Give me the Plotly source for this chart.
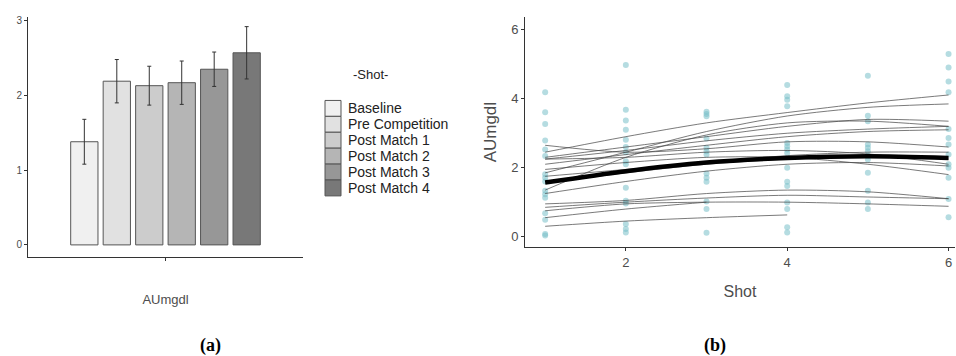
import plotly.graph_objects as go

# ---------------- data: panel (a) ----------------
shot_levels = ["Baseline", "Pre Competition", "Post Match 1", "Post Match 2", "Post Match 3", "Post Match 4"]
bar_means = [1.38, 2.19, 2.13, 2.17, 2.35, 2.57]
bar_err = [0.30, 0.29, 0.26, 0.29, 0.23, 0.35]
bar_colors = ["#F0F0F0", "#E1E1E1", "#CCCCCC", "#B5B5B5", "#979797", "#787878"]
bar_category = "AUmgdl"

# ---------------- data: panel (b) ----------------
shots = [1, 2, 3, 4, 5, 6]
pts_shot1 = [4.19, 3.61, 3.27, 2.79, 2.53, 2.34, 1.81, 1.71, 1.60, 1.33, 1.23, 1.13, 0.68, 0.49, 0.08, 0.03]
pts_shot2 = [4.98, 3.68, 3.37, 3.10, 2.81, 2.60, 2.45, 2.19, 2.10, 1.42, 1.04, 0.96, 0.37, 0.22, 0.12]
pts_shot3 = [3.62, 3.56, 3.49, 2.85, 2.58, 2.48, 2.38, 1.83, 1.71, 1.59, 1.02, 0.80, 0.11]
pts_shot4 = [4.40, 4.07, 3.97, 3.78, 2.72, 2.62, 2.53, 2.43, 2.00, 1.59, 1.47, 0.99, 0.80, 0.27, 0.12]
pts_shot5 = [4.67, 3.51, 3.35, 2.67, 2.58, 2.48, 2.34, 2.24, 1.85, 1.33, 0.99, 0.80]
pts_shot6 = [5.30, 4.91, 4.50, 4.19, 3.12, 2.86, 2.67, 2.38, 2.10, 2.00, 1.71, 1.09, 0.56]

subj01 = [2.45, 2.90, 3.30, 3.60, 3.88, 4.11]
subj02 = [1.85, 2.45, 3.05, 3.50, 3.75, 3.85]
subj03 = [2.30, 2.60, 2.90, 3.20, 3.40, 3.35]
subj04 = [2.25, 2.50, 2.78, 3.00, 3.12, 3.20]
subj05 = [2.10, 2.38, 2.65, 2.90, 3.05, 3.10]
subj06 = [2.65, 2.45, 2.55, 2.75, 2.75, 2.60]
subj07 = [2.25, 2.30, 2.45, 2.50, 2.40, 2.10]
subj08 = [1.95, 2.15, 2.30, 2.30, 2.10, 1.80]
subj09 = [1.35, 2.30, 2.95, 3.30, 3.35, 3.20]
subj10 = [1.55, 1.85, 2.10, 2.25, 2.30, 2.25]
subj11 = [1.25, 1.60, 1.90, 2.10, 2.15, 2.05]
subj12 = [1.75, 1.95, 2.15, 2.35, 2.45, 2.45]
subj13 = [0.95, 1.05, 1.25, 1.35, 1.30, 1.10]
subj14 = [0.85, 1.00, 1.12, 1.20, 1.15, 1.10]
subj15 = [0.75, 0.95, 1.00, 1.00, 0.95, 0.88]
subj16 = [0.55, 0.80, 1.00, None, None, None]
subj17 = [0.30, 0.45, 0.55, 0.63, None, None]
mean_curve = [1.57, 1.90, 2.15, 2.28, 2.33, 2.28]

W, H = 956, 356
FONT = "Arial, Liberation Sans, sans-serif"
AXC = "#333333"
TXT = "#4D4D4D"

fig = go.Figure()

# ---- panel (a): bars ----
for name, m, e, c in zip(shot_levels, bar_means, bar_err, bar_colors):
    fig.add_trace(go.Bar(
        x=[bar_category], y=[m], name=name, marker=dict(color=c, line=dict(color="#555555", width=1)),
        error_y=dict(type="data", array=[e], color="#333333", thickness=1, width=2),
        xaxis="x", yaxis="y", showlegend=False,
    ))

# ---- panel (b): points ----
pt_color = "rgba(120,192,200,0.55)"
for s, arr in zip(shots, [pts_shot1, pts_shot2, pts_shot3, pts_shot4, pts_shot5, pts_shot6]):
    fig.add_trace(go.Scatter(
        x=[s] * len(arr), y=arr, mode="markers",
        marker=dict(size=6, color=pt_color), xaxis="x2", yaxis="y2", showlegend=False,
    ))

subjects = [subj01, subj02, subj03, subj04, subj05, subj06, subj07, subj08, subj09,
            subj10, subj11, subj12, subj13, subj14, subj15, subj16, subj17]
for ys in subjects:
    fig.add_trace(go.Scatter(
        x=shots, y=ys, mode="lines", line=dict(color="rgba(70,70,70,0.8)", width=0.9, shape="spline", smoothing=0.8),
        connectgaps=False, xaxis="x2", yaxis="y2", showlegend=False,
    ))
fig.add_trace(go.Scatter(
    x=shots, y=mean_curve, mode="lines", line=dict(color="black", width=4.5, shape="spline", smoothing=0.8),
    xaxis="x2", yaxis="y2", showlegend=False,
))

# ---- manual legend for panel (a) ----
key_left, key_w, key_h, key_top = 325, 16, 16, 99
shapes = []
annotations = []
annotations.append(dict(text="-Shot-", x=370 / W, y=1 - 73 / H, xref="paper", yref="paper",
                        showarrow=False, font=dict(family=FONT, size=13, color="#222222"),
                        xanchor="center", yanchor="middle"))
for i, (name, c) in enumerate(zip(shot_levels, bar_colors)):
    y0 = key_top + i * key_h
    shapes.append(dict(type="rect", xref="paper", yref="paper",
                       x0=key_left / W, x1=(key_left + key_w) / W,
                       y0=1 - (y0 + key_h) / H, y1=1 - y0 / H,
                       fillcolor=c, line=dict(color="#555555", width=1)))
    annotations.append(dict(text=name, x=(key_left + key_w + 5) / W, y=1 - (y0 + key_h / 2) / H,
                            xref="paper", yref="paper", showarrow=False,
                            font=dict(family=FONT, size=14, color="#222222"),
                            xanchor="left", yanchor="middle"))

# panel labels
annotations.append(dict(text="<b>(a)</b>", x=210 / W, y=1 - 345 / H, xref="paper", yref="paper",
                        showarrow=False, font=dict(family="Liberation Serif, Times New Roman, serif", size=18, color="black"),
                        xanchor="center", yanchor="middle"))
annotations.append(dict(text="<b>(b)</b>", x=715 / W, y=1 - 345 / H, xref="paper", yref="paper",
                        showarrow=False, font=dict(family="Liberation Serif, Times New Roman, serif", size=18, color="black"),
                        xanchor="center", yanchor="middle"))

fig.update_layout(
    width=W, height=H, margin=dict(l=0, r=0, t=0, b=0),
    paper_bgcolor="white", plot_bgcolor="white",
    barmode="group", bargap=0.15, bargroupgap=0.16,
    font=dict(family=FONT, color=TXT),
    shapes=shapes, annotations=annotations,
    xaxis=dict(domain=[28 / W, 303 / W], range=[-0.6, 0.6], type="category",
               showline=True, linecolor=AXC, linewidth=1, ticks="outside", ticklen=3, tickcolor=AXC,
               showticklabels=False, showgrid=False, zeroline=False,
               title=dict(text="AUmgdl", standoff=35, font=dict(size=13, color=TXT))),
    yaxis=dict(domain=[1 - 256 / H, 1 - 15 / H], range=[-0.156, 3.05],
               showline=True, linecolor=AXC, linewidth=1, ticks="outside", ticklen=3, tickcolor=AXC,
               tickvals=[0, 1, 2, 3], tickfont=dict(size=10, color=TXT), showgrid=False, zeroline=False),
    xaxis2=dict(domain=[525 / W, 955 / W], range=[0.75, 6.08], anchor="y2",
                showline=True, linecolor=AXC, linewidth=1, ticks="outside", ticklen=3, tickcolor=AXC,
                tickvals=[2, 4, 6], tickfont=dict(size=13, color=TXT), showgrid=False, zeroline=False,
                title=dict(text="Shot", standoff=16, font=dict(size=16, color=TXT))),
    yaxis2=dict(domain=[1 - 246.7 / H, 1 - 15 / H], range=[-0.31, 6.375], anchor="x2",
                showline=True, linecolor=AXC, linewidth=1, ticks="outside", ticklen=3, tickcolor=AXC,
                tickvals=[0, 2, 4, 6], tickfont=dict(size=13, color=TXT), showgrid=False, zeroline=False,
                title=dict(text="AUmgdl", standoff=10, font=dict(size=17, color=TXT))),
)

fig.write_html("out.html", config={"displayModeBar": False},
               post_script="document.body.style.margin='0px';document.body.style.padding='0px';")
